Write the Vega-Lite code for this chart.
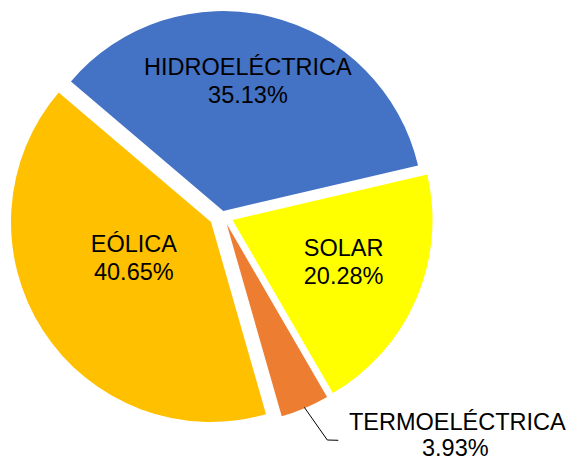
{
  "$schema": "https://vega.github.io/schema/vega-lite/v6.json",
  "width": 444,
  "height": 434,
  "autosize": "none",
  "padding": {"left": 0, "top": 0, "right": 125, "bottom": 27},
  "background": "white",
  "config": {"view": {"stroke": null}},
  "data": {
    "values": [
      {"category": "HIDROELÉCTRICA", "share": 0.3513, "order": 1},
      {"category": "SOLAR", "share": 0.2028, "order": 2},
      {"category": "TERMOELÉCTRICA", "share": 0.0393, "order": 3},
      {"category": "EÓLICA", "share": 0.4065, "order": 4}
    ]
  },
  "transform": [
    {"stack": "share", "groupby": [], "sort": [{"field": "order"}], "as": ["t0", "t1"]}
  ],
  "layer": [
    {
      "transform": [{"filter": "datum.category === 'HIDROELÉCTRICA'"}],
      "mark": {"type": "arc", "radius": 200, "xOffset": 1.3, "yOffset": -6},
      "encoding": {
        "theta": {"field": "t0", "type": "quantitative", "scale": {"domain": [0, 0.9999], "range": [-0.866, 5.4172]}},
        "theta2": {"field": "t1"},
        "color": {"field": "category", "type": "nominal", "scale": {"domain": ["HIDROELÉCTRICA", "SOLAR", "TERMOELÉCTRICA", "EÓLICA"], "range": ["#4472C4", "#FFFF00", "#ED7D31", "#FFC000"]}, "legend": null}
      }
    },
    {
      "transform": [{"filter": "datum.category === 'SOLAR'"}],
      "mark": {"type": "arc", "radius": 200, "xOffset": 10.5, "yOffset": 3},
      "encoding": {
        "theta": {"field": "t0", "type": "quantitative", "scale": {"domain": [0, 0.9999], "range": [-0.866, 5.4172]}},
        "theta2": {"field": "t1"},
        "color": {"field": "category", "type": "nominal", "legend": null}
      }
    },
    {
      "transform": [{"filter": "datum.category === 'TERMOELÉCTRICA'"}],
      "mark": {"type": "arc", "radius": 200, "xOffset": 4.7, "yOffset": 7},
      "encoding": {
        "theta": {"field": "t0", "type": "quantitative", "scale": {"domain": [0, 0.9999], "range": [-0.866, 5.4172]}},
        "theta2": {"field": "t1"},
        "color": {"field": "category", "type": "nominal", "legend": null}
      }
    },
    {
      "transform": [{"filter": "datum.category === 'EÓLICA'"}],
      "mark": {"type": "arc", "radius": 200, "xOffset": -11, "yOffset": 5},
      "encoding": {
        "theta": {"field": "t0", "type": "quantitative", "scale": {"domain": [0, 0.9999], "range": [-0.866, 5.4172]}},
        "theta2": {"field": "t1"},
        "color": {"field": "category", "type": "nominal", "legend": null}
      }
    },
    {
      "transform": [{"filter": "datum.category === 'TERMOELÉCTRICA'"}],
      "mark": {"type": "point", "shape": "M 82.3 190.3 L 105.3 223 L 116.3 223.3", "size": 4, "filled": false, "stroke": "black", "strokeWidth": 1, "opacity": 1},
      "encoding": {}
    },
    {
      "mark": {
        "type": "text", "font": "Liberation Sans", "fontSize": 23.5, "color": "black", "align": "center", "baseline": "alphabetic",
        "radius": {"expr": "datum.category === 'HIDROELÉCTRICA' ? 144 : datum.category === 'SOLAR' ? 127 : datum.category === 'EÓLICA' ? 93 : 289.5"},
        "dx": {"expr": "datum.category === 'HIDROELÉCTRICA' ? -8 : datum.category === 'SOLAR' ? 5 : datum.category === 'EÓLICA' ? -10 : 122"},
        "dy": {"expr": "datum.category === 'HIDROELÉCTRICA' ? -2 : datum.category === 'SOLAR' ? -11 : datum.category === 'EÓLICA' ? -15 : -53"}
      },
      "encoding": {
        "theta": {"field": "share", "type": "quantitative", "stack": true, "scale": {"domain": [0, 0.9999], "range": [-0.866, 5.4172]}},
        "order": {"field": "order", "type": "quantitative"},
        "text": {"field": "category", "type": "nominal"}
      }
    },
    {
      "mark": {
        "type": "text", "font": "Liberation Sans", "fontSize": 23.5, "color": "black", "align": "center", "baseline": "alphabetic",
        "radius": {"expr": "datum.category === 'HIDROELÉCTRICA' ? 144 : datum.category === 'SOLAR' ? 127 : datum.category === 'EÓLICA' ? 93 : 289.5"},
        "dx": {"expr": "datum.category === 'HIDROELÉCTRICA' ? -8 : datum.category === 'SOLAR' ? 5 : datum.category === 'EÓLICA' ? -10 : 120"},
        "dy": {"expr": "datum.category === 'HIDROELÉCTRICA' ? 26 : datum.category === 'SOLAR' ? 17 : datum.category === 'EÓLICA' ? 13 : -27"}
      },
      "encoding": {
        "theta": {"field": "share", "type": "quantitative", "stack": true, "scale": {"domain": [0, 0.9999], "range": [-0.866, 5.4172]}},
        "order": {"field": "order", "type": "quantitative"},
        "text": {"field": "share", "type": "quantitative", "format": ".2%"}
      }
    }
  ]
}
